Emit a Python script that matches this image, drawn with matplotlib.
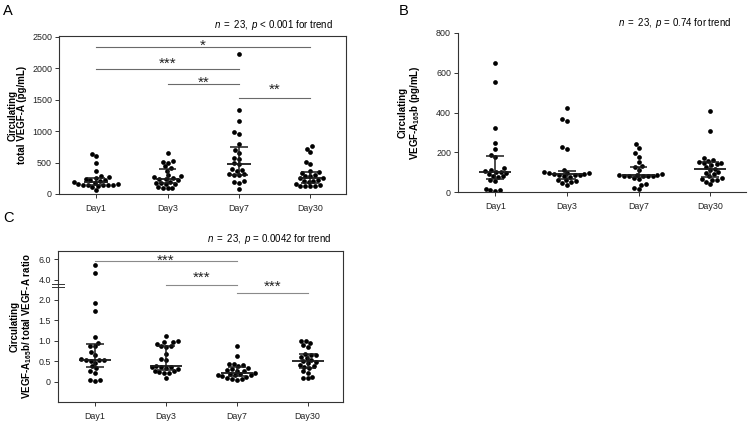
import numpy as np
import pandas as pd
import matplotlib
matplotlib.use("Agg")
import matplotlib.pyplot as plt
import seaborn as sns
import warnings
warnings.filterwarnings("ignore")

plt.rcParams["font.family"] = ["Liberation Sans", "DejaVu Sans"]
plt.rcParams["mathtext.fontset"] = "custom"
plt.rcParams["mathtext.rm"] = "Liberation Sans"
plt.rcParams["mathtext.it"] = "Liberation Sans:italic"
plt.rcParams["mathtext.bf"] = "Liberation Sans:bold"

days = ["Day1", "Day3", "Day7", "Day30"]

# Panel A: circulating total VEGF-A (pg/mL)
total_day1 = [639, 607, 495, 372, 280, 265, 255, 240, 230, 215, 200, 195, 180, 160,
              155, 150, 150, 145, 140, 140, 130, 110, 64]
total_day3 = [650, 520, 510, 500, 440, 410, 370, 300, 280, 265, 255, 240, 235, 225,
              195, 180, 170, 165, 160, 110, 100, 95, 90]
total_day7 = [2220, 1342, 1166, 985, 958, 800, 700, 650, 570, 560, 490, 470, 390, 380,
              370, 320, 310, 305, 300, 200, 190, 180, 80]
total_day30 = [755, 720, 660, 516, 480, 360, 350, 340, 300, 290, 285, 255, 250, 230,
               210, 200, 190, 160, 140, 135, 130, 125, 120]

# Panel B: circulating VEGF-A165b (pg/mL)
b_day1 = [650, 555, 320, 245, 215, 185, 175, 120, 110, 105, 102, 100, 95, 90, 80, 78,
          75, 60, 55, 15, 10, 8, 5]
b_day3 = [422, 365, 355, 228, 218, 110, 100, 98, 95, 95, 92, 90, 88, 85, 85, 80, 75,
          60, 58, 55, 50, 45, 35]
b_day7 = [241, 220, 195, 178, 150, 130, 125, 110, 90, 88, 87, 85, 83, 82, 80, 80, 78,
          70, 65, 38, 35, 20, 15]
b_day30 = [410, 305, 170, 160, 155, 150, 148, 145, 140, 135, 125, 118, 110, 100, 95,
           90, 80, 70, 65, 62, 60, 50, 38]

# Panel C: VEGF-A165b / total VEGF-A ratio
r_day1 = [5.45, 4.6, 1.93, 1.73, 1.1, 0.94, 0.88, 0.86, 0.72, 0.66, 0.55, 0.54, 0.53,
          0.52, 0.50, 0.45, 0.37, 0.33, 0.25, 0.22, 0.05, 0.03, 0.02]
r_day3 = [1.12, 1.0, 0.98, 0.96, 0.93, 0.88, 0.86, 0.85, 0.68, 0.55, 0.52, 0.38, 0.36,
          0.36, 0.35, 0.33, 0.30, 0.27, 0.25, 0.23, 0.22, 0.20, 0.09]
r_day7 = [0.88, 0.62, 0.43, 0.42, 0.40, 0.38, 0.33, 0.31, 0.28, 0.27, 0.25, 0.21, 0.19,
          0.18, 0.17, 0.16, 0.15, 0.14, 0.12, 0.09, 0.07, 0.06, 0.05]
r_day30 = [1.0, 1.0, 0.95, 0.90, 0.85, 0.68, 0.66, 0.64, 0.60, 0.58, 0.52, 0.50, 0.48,
           0.45, 0.40, 0.38, 0.36, 0.33, 0.25, 0.22, 0.12, 0.10, 0.08]

trend_a = r"$\mathit{n\ =\ 23,\ p}$ < 0.001 for trend"
trend_b = r"$\mathit{n\ =\ 23,\ p}$ = 0.74 for trend"
trend_c = r"$\mathit{n\ =\ 23,\ p}$ = 0.0042 for trend"

# significance comparisons: (group i, group j, bar height, star height, label)
sig_a = [(0, 3, 2330, 2428, "*"), (0, 2, 1980, 2141, "***"),
         (1, 2, 1740, 1837, "**"), (2, 3, 1530, 1725, "**")]
sig_c = [(0, 2, 5.8, 6.3, "***"), (1, 2, 3.47, 4.64, "***"), (2, 3, 2.68, 3.76, "***")]

fig = plt.figure(figsize=(7.48, 4.24), dpi=100)
W, H = 748, 424


def make_ax(l, r, t, b):
    return fig.add_axes([l / W, 1 - b / H, (r - l) / W, (b - t) / H])


axA = make_ax(59, 346, 36, 194)
axB = make_ax(458, 746, 33, 192)
axC = make_ax(58, 343, 251, 402)


def fwd(v):
    v = np.asarray(v, dtype=float)
    return np.where(v <= 2, v, 2 + (v - 2) / 4)


def inv(m):
    m = np.asarray(m, dtype=float)
    return np.where(m <= 2, m, 2 + 4 * (m - 2))


axC.set_yscale("function", functions=(fwd, inv))

ecol = "#1a1a1a"


def panel(ax, groups, ylim, yticks, yticklabels, med_w, cap_w):
    df = pd.DataFrame({"day": np.repeat(days, [len(g) for g in groups]),
                       "val": np.concatenate(groups)})
    ax.set_ylim(*ylim)
    sns.swarmplot(data=df, x="day", y="val", order=days, color="black", size=3.4,
                  linewidth=0, ax=ax, zorder=2)
    for i, g in enumerate(groups):
        q1, med, q3 = np.percentile(g, [25, 50, 75])
        ax.hlines(med, i - med_w / 2, i + med_w / 2, color=ecol, lw=1.3, zorder=3)
        ax.hlines([q1, q3], i - cap_w / 2, i + cap_w / 2, color=ecol, lw=1.1, zorder=3)
        ax.vlines(i, q1, q3, color=ecol, lw=1.1, zorder=3)
    ax.set_xlim(-0.52, 3.5)
    ax.set_ylim(*ylim)
    ax.set_yticks(yticks)
    ax.set_yticklabels(yticklabels)
    ax.set_xlabel("")
    ax.tick_params(labelsize=6.4, length=3, width=0.7, color="#333333", pad=2,
                   labelcolor="#222222")
    ax.tick_params(axis="x", pad=4)
    for s in ax.spines.values():
        s.set_color("#333333")
        s.set_linewidth(0.8)


panel(axA, [total_day1, total_day3, total_day7, total_day30], (0, 2510),
      [0, 500, 1000, 1500, 2000, 2500], ["0", "500", "1000", "1500", "2000", "2500"],
      0.33, 0.25)
panel(axB, [b_day1, b_day3, b_day7, b_day30], (0, 800),
      [0, 200, 400, 600, 800], ["0", "200", "400", "600", "800"], 0.45, 0.25)
panel(axC, [r_day1, r_day3, r_day7, r_day30], (-0.5, 6.8),
      [0, 0.5, 1.0, 1.5, 2.0, 4.0, 6.0], ["0", "0.5", "1.0", "1.5", "2.0", "4.0", "6.0"],
      0.45, 0.25)
axB.spines["top"].set_visible(False)
axB.spines["right"].set_visible(False)

# y labels
axA.set_ylabel("Circulating\ntotal VEGF-A (pg/mL)", fontsize=7, fontweight="bold",
               linespacing=1.0)
axA.yaxis.set_label_coords(-0.11, 0.5)
axB.set_ylabel("Circulating\nVEGF-A$_{\\mathbf{165}}$b (pg/mL)", fontsize=7,
               fontweight="bold", linespacing=1.0)
axB.yaxis.set_label_coords(-0.125, 0.5)
axC.set_ylabel("Circulating\nVEGF-A$_{\\mathbf{165}}$b/ total VEGF-A ratio", fontsize=7,
               fontweight="bold", linespacing=1.0)
axC.yaxis.set_label_coords(-0.085, 0.5)

# trend texts
axA.text(0.955, 1.025, trend_a, transform=axA.transAxes, ha="right", va="bottom",
         fontsize=7)
axB.text(0.951, 1.02, trend_b, transform=axB.transAxes, ha="right", va="bottom",
         fontsize=7)
axC.text(0.961, 1.03, trend_c, transform=axC.transAxes, ha="right", va="bottom",
         fontsize=7)

STAR_FS = 11


def sig(ax, comps, lcol):
    star_off = 0.57 * STAR_FS * fig.dpi / 72.0
    for i, j, h, hs, lab in comps:
        ax.plot([i, j], [h, h], color=lcol, lw=0.8, zorder=1, clip_on=False)
        disp = ax.transData.transform([(i + j) / 2, hs])
        _, yb = ax.transData.inverted().transform(disp - np.array([0, star_off]))
        ax.text((i + j) / 2, yb, lab, ha="center", va="baseline", fontsize=STAR_FS,
                color="#222222")


sig(axA, sig_a, "#6a6a6a")
sig(axC, sig_c, "#8a8a8a")

# axis break marks on panel C
for yb in (3.25, 3.6):
    axC.plot([-0.02, 0.02], [yb, yb], transform=axC.get_yaxis_transform(),
             color="#333333", lw=0.7, clip_on=False)

fig.text(3 / W, 1 - 15 / H, "A", fontsize=10.5, va="baseline")
fig.text(399 / W, 1 - 15 / H, "B", fontsize=10.5, va="baseline")
fig.text(3 / W, 1 - 222 / H, "C", fontsize=10.5, va="baseline")

fig.savefig("out.png", dpi=100)
